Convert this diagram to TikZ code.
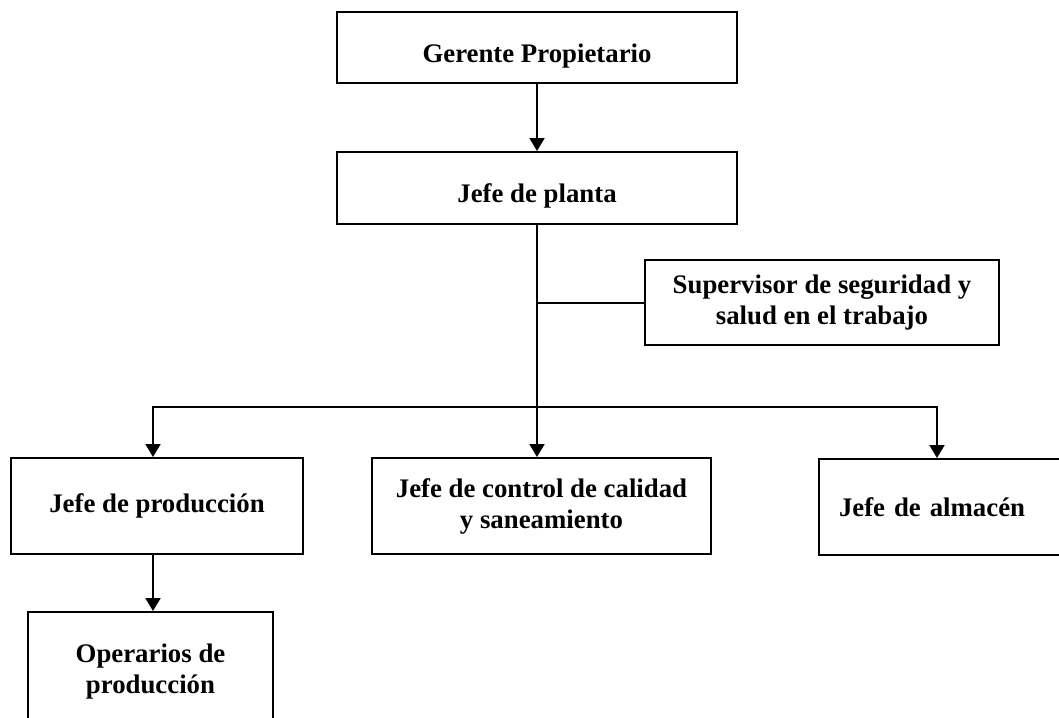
\documentclass[tikz,border=0pt]{standalone}
\usepackage{fontspec}
\setmainfont{Liberation Serif}
\usetikzlibrary{arrows.meta}
\begin{document}
\begin{tikzpicture}[x=1pt,y=-1pt,
  box/.style={draw, line width=2pt, rectangle, inner sep=0pt, align=center,
    font=\bfseries\fontsize{26.8}{31}\selectfont},
  conn/.style={line width=2pt},
  arr/.style={conn, -{Triangle[width=15pt,length=13pt]}}]
\useasboundingbox (0,0) rectangle (1059,717);
\fill[white] (0,0) rectangle (1059,717);
\clip (0,0) rectangle (1059,717);

\node[box, minimum width=400pt, minimum height=71pt, text height=31pt, text depth=0pt] (g) at (537,47.5) {Gerente Propietario};
\node[box, minimum width=400pt, minimum height=72pt, text height=28pt, text depth=0pt] (p) at (537,188) {Jefe de planta};
\node[box, minimum width=354pt, minimum height=85pt] (sup) at (822,302.5) {Supervisor de seguridad y\\salud en el trabajo};
\node[box, minimum width=292pt, minimum height=96pt] (prod) at (157,506) {Jefe de producción};
\node[box, minimum width=339pt, minimum height=96pt] (ctrl) at (541.5,506) {Jefe de control de calidad\\y saneamiento};
\node[box, anchor=north west, minimum height=96pt, text width=222pt, inner xsep=20pt, align=left] (alm) at (818,458) {Jefe de almacén};
\node[box, minimum width=245pt, minimum height=120pt] (ops) at (150.5,672) {Operarios de\\producción};

\coordinate (bl) at (153,407);
\coordinate (br) at (937,407);
\coordinate (bm) at (p.south |- bl);
\coordinate (j) at (p.south |- sup.west);

\draw[arr] (g.south) -- (p.north);
\draw[arr] (p.south) -- (p.south |- ctrl.north);
\draw[conn] (j) -- (sup.west);
\draw[arr] (bm) -| (bl |- prod.north);
\draw[arr] (bm) -| (br |- alm.north);
\draw[arr] (bl |- prod.south) -- (bl |- ops.north);
\end{tikzpicture}
\end{document}
